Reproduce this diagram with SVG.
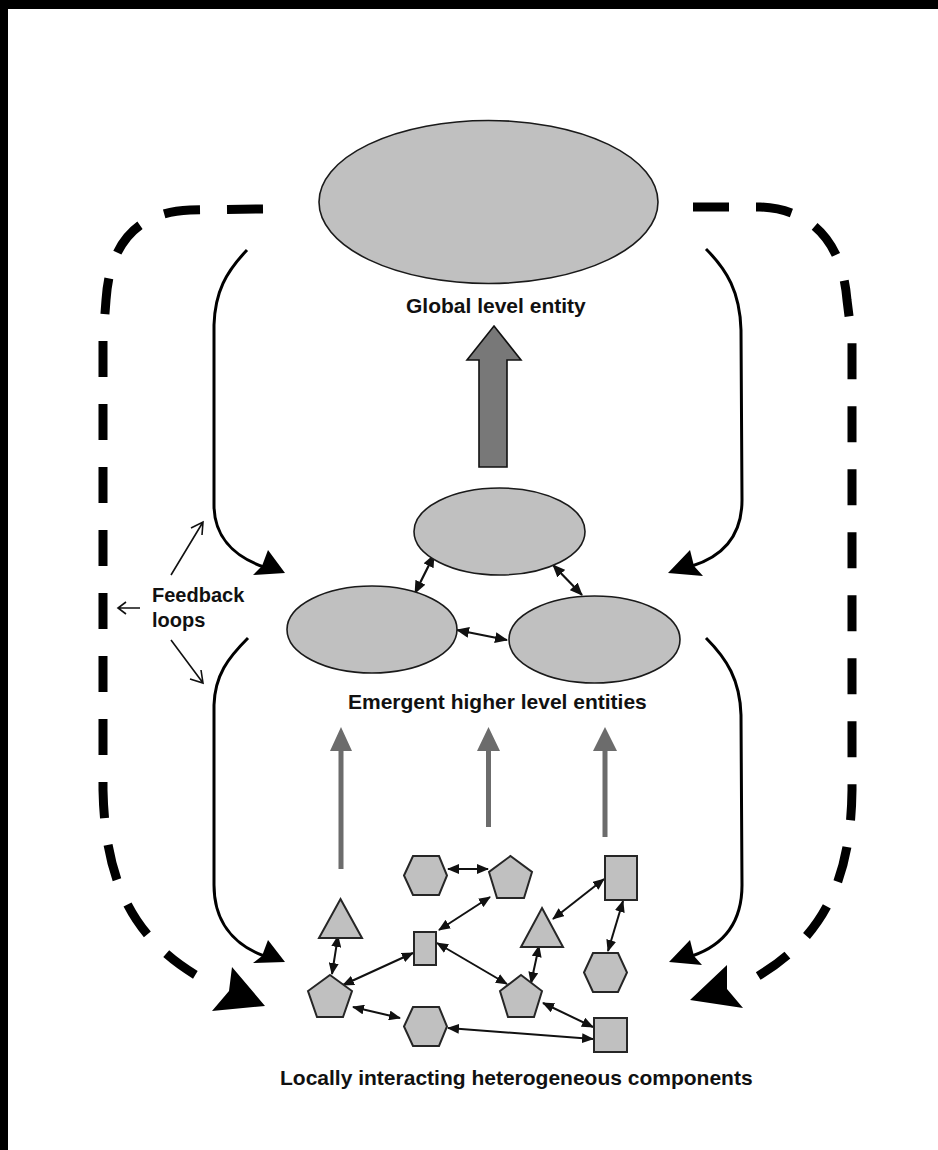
<svg xmlns="http://www.w3.org/2000/svg" width="938" height="1150" viewBox="0 0 938 1150">
<style>
.bg{fill:#ffffff}
.frame{fill:#000000}
.ell{fill:#c0c0c0;stroke:#1a1a1a;stroke-width:1.6}
.shape{fill:#c0c0c0;stroke:#262626;stroke-width:2}
.lbl{font-family:"Liberation Sans",Arial,sans-serif;font-weight:bold;fill:#111111}
.dash{fill:none;stroke:#000;stroke-width:9;stroke-dasharray:36 27}
.curve{fill:none;stroke:#000;stroke-width:3}
.head{fill:#000;stroke:none}
.thin{fill:none;stroke:#111;stroke-width:1.6}
.link{fill:none;stroke:#111;stroke-width:2;marker-start:url(#ah);marker-end:url(#ah)}
.link2{fill:none;stroke:#111;stroke-width:2.2;marker-start:url(#ah2);marker-end:url(#ah2)}
.up{fill:#6c6c6c;stroke:none}
.big{fill:#787878;stroke:#111;stroke-width:1.6}
</style>
<defs>
<marker id="ah" markerUnits="userSpaceOnUse" markerWidth="12" markerHeight="10" refX="11" refY="5" orient="auto-start-reverse" viewBox="0 0 12 10">
<path d="M0,0 L12,5 L0,10 z" fill="#111"/>
</marker>
<marker id="ah2" markerUnits="userSpaceOnUse" markerWidth="13" markerHeight="11" refX="12" refY="5.5" orient="auto-start-reverse" viewBox="0 0 13 11">
<path d="M0,0 L13,5.5 L0,11 z" fill="#111"/>
</marker>
</defs>
<rect class="bg" x="0" y="0" width="938" height="1150"/>
<rect class="frame" x="0" y="0" width="8" height="1150"/>
<rect class="frame" x="0" y="0" width="938" height="9"/>

<g id="connectors">
<!-- dashed outer feedback loops -->
<path class="dash" d="M263,209 L190,210 C140,212 110,240 106,300 L103,340 L103,790 C105,885 135,945 212,984"/>
<polygon class="head" points="265,1006 232,967 229,991 212,1011"/>
<path class="dash" d="M693,207 L760,207 C810,209 842,240 847,300 L852,340 L852,790 C851,885 820,945 742,985"/>
<polygon class="head" points="690,1000 727,965 727,989 743,1008"/>
<!-- solid feedback curves -->
<path class="curve" d="M247,250 C226,272 215,292 214,325 L214,505 C214,535 232,556 264,567"/>
<polygon class="head" points="285,573 268,550 262,566 253,575"/>
<path class="curve" d="M248,638 C228,658 215,675 214,705 L214,885 C214,920 232,944 264,956"/>
<polygon class="head" points="285,962 268,940 262,956 253,963"/>
<path class="curve" d="M706,249 C727,270 740,292 741,330 L742,500 C742,535 724,556 692,566"/>
<polygon class="head" points="668,573 690,550 694,566 703,576"/>
<path class="curve" d="M706,638 C727,659 740,680 741,715 L742,885 C742,922 724,945 692,956"/>
<polygon class="head" points="669,962 690,940 694,956 702,965"/>
<!-- feedback label pointers -->
<path class="thin" d="M171,575 L203,522 M191,528 L203,522 L202,535"/>
<path class="thin" d="M140,608 L118,608 M126,602 L118,608 L126,614"/>
<path class="thin" d="M171,640 L203,683 M201,670 L203,683 L190,679"/>
<!-- emergence arrows -->
<polygon class="big" points="494,326 521,360 507,360 507,467 479,467 479,360 467,360"/>
<polygon class="up" points="341,727 352,751 343.5,751 343.5,869 338.5,869 338.5,751 330,751"/>
<polygon class="up" points="488.5,727 500,751 491,751 491,827 486,827 486,751 477,751"/>
<polygon class="up" points="605,727 617,751 607.5,751 607.5,837 602.5,837 602.5,751 593,751"/>
<!-- links between emergent entities -->
<path class="link2" d="M434,555 L415,593"/>
<path class="link2" d="M553,565 L582,595"/>
<path class="link2" d="M457,630 L507,640"/>
<!-- links between components -->
<path class="link" d="M448,869 L488,869"/>
<path class="link" d="M439,930 L490,897"/>
<path class="link" d="M338,936 L332,974"/>
<path class="link" d="M413,953 L343,985"/>
<path class="link" d="M437,943 L507,984"/>
<path class="link" d="M553,919 L604,879"/>
<path class="link" d="M623,901 L608,951"/>
<path class="link" d="M539,946 L531,983"/>
<path class="link" d="M353,1007 L400,1018"/>
<path class="link" d="M448,1028 L593,1039"/>
<path class="link" d="M543,1003 L593,1027"/>
</g>

<g id="global-entity">
<ellipse class="ell" cx="488.5" cy="202" rx="169.5" ry="81.5"/>
<text class="lbl" x="406" y="313" font-size="21">Global level entity</text>
</g>
<g id="emergent-top"><ellipse class="ell" cx="499.5" cy="531.5" rx="85.5" ry="43.5"/></g>
<g id="emergent-left"><ellipse class="ell" cx="372" cy="629.5" rx="85" ry="43.5"/></g>
<g id="emergent-right"><ellipse class="ell" cx="594.5" cy="639.5" rx="85.5" ry="43.5"/></g>
<g id="emergent-label"><text class="lbl" x="348" y="709" font-size="21">Emergent higher level entities</text></g>
<g id="feedback-label">
<text class="lbl" x="152" y="602" font-size="20">Feedback</text>
<text class="lbl" x="152" y="627" font-size="20">loops</text>
</g>

<g id="hexagon-top"><polygon class="shape" points="404,875.5 413,856 439,856 447,875.5 439,895 413,895"/></g>
<g id="pentagon-top"><polygon class="shape" points="510.5,856 532,872 524,898 497,898 489,872"/></g>
<g id="triangle-left"><polygon class="shape" points="340.5,899 362,938 319,938"/></g>
<g id="rect-small"><rect class="shape" x="414" y="932" width="22" height="33"/></g>
<g id="rect-topright"><rect class="shape" x="605" y="856" width="32" height="44"/></g>
<g id="triangle-right"><polygon class="shape" points="542,908 563,947 521,947"/></g>
<g id="hexagon-right"><polygon class="shape" points="584,972.5 593,953 618,953 627,972.5 618,992 593,992"/></g>
<g id="pentagon-left"><polygon class="shape" points="330,975 352,991 343,1017 317,1017 308,991"/></g>
<g id="pentagon-mid"><polygon class="shape" points="521,975 542,991 534,1017 508,1017 500,991"/></g>
<g id="hexagon-bottom"><polygon class="shape" points="404,1026.5 413,1007 439,1007 447,1026.5 439,1046 413,1046"/></g>
<g id="square-bottom"><rect class="shape" x="594" y="1018" width="33" height="34"/></g>
<g id="components-label"><text class="lbl" x="280" y="1085" font-size="21">Locally interacting heterogeneous components</text></g>
</svg>
